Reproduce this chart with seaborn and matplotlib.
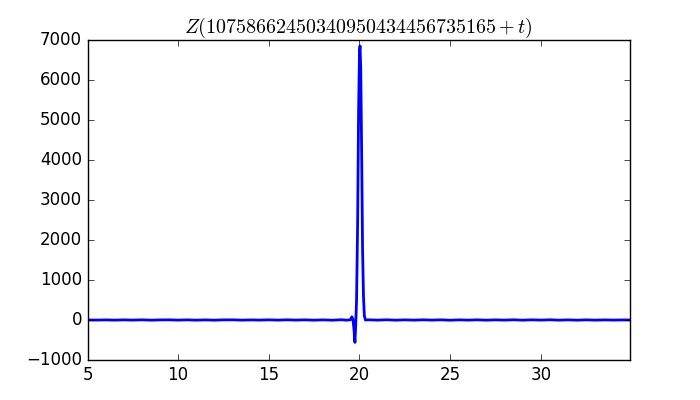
import matplotlib
matplotlib.use("Agg")
import matplotlib.pyplot as plt
import pandas as pd
import seaborn as sns

# Z(N + t): flat near zero, one dip and a large spike near t = 20
t_vals = [5.0, 5.5, 6.0, 6.5, 7.0, 7.5, 8.0, 8.5, 9.0, 9.5, 10.0, 10.5, 11.0, 11.5,
          12.0, 12.5, 13.0, 13.5, 14.0, 14.5, 15.0, 15.5, 16.0, 16.5, 17.0, 17.5,
          18.0, 18.5, 19.0, 19.3, 19.5, 19.58, 19.64, 19.70, 19.75, 19.79, 19.84,
          19.90, 19.95, 20.00, 20.03, 20.07, 20.12, 20.17, 20.22, 20.27, 20.33,
          20.5, 21.0, 21.5, 22.0, 22.5, 23.0, 23.5, 24.0, 24.5, 25.0, 25.5, 26.0,
          26.5, 27.0, 27.5, 28.0, 28.5, 29.0, 29.5, 30.0, 30.5, 31.0, 31.5, 32.0,
          32.5, 33.0, 33.5, 34.0, 34.5, 34.9]
z_vals = [1, -2, 2, -3, 3, -2, 4, -4, 2, 4, -3, 3, -4, 2, -4, 3, 4, -3, 2, -2,
          4, -3, 4, -2, 3, -4, 3, -5, 6, -4, 5, 80, 20, -250, -560, -150, 500,
          2500, 5200, 6700, 6850, 6300, 4200, 1800, 600, 100, 0,
          4, -3, 5, -4, 3, -3, 4, -2, 4, -5, 3, -3, 4, -4, 3, -3, 5, -4, 4, -2,
          5, -4, 3, -4, 3, -3, 2, -2, 1, 0]

title_text = r"$Z(10758662450340950434456735165+t)$"
x_ticks = [5, 10, 15, 20, 25, 30]
y_ticks = [-1000, 0, 1000, 2000, 3000, 4000, 5000, 6000, 7000]

plt.style.use("classic")
df = pd.DataFrame({"t": t_vals, "Z": z_vals})

fig, ax = plt.subplots(figsize=(7, 4), dpi=100)
fig.patch.set_facecolor("white")
fig.subplots_adjust(left=0.125, right=0.9, bottom=0.1, top=0.9)
sns.lineplot(data=df, x="t", y="Z", color="b", linewidth=2, ax=ax)

ax.set_xlim(5, 34.92)
ax.set_ylim(-1000, 7000)
ax.set_xticks(x_ticks)
ax.set_yticks(y_ticks)
ax.set_xlabel("")
ax.set_ylabel("")
ax.set_title(title_text)

fig.savefig("out.png", dpi=100, facecolor="white")
